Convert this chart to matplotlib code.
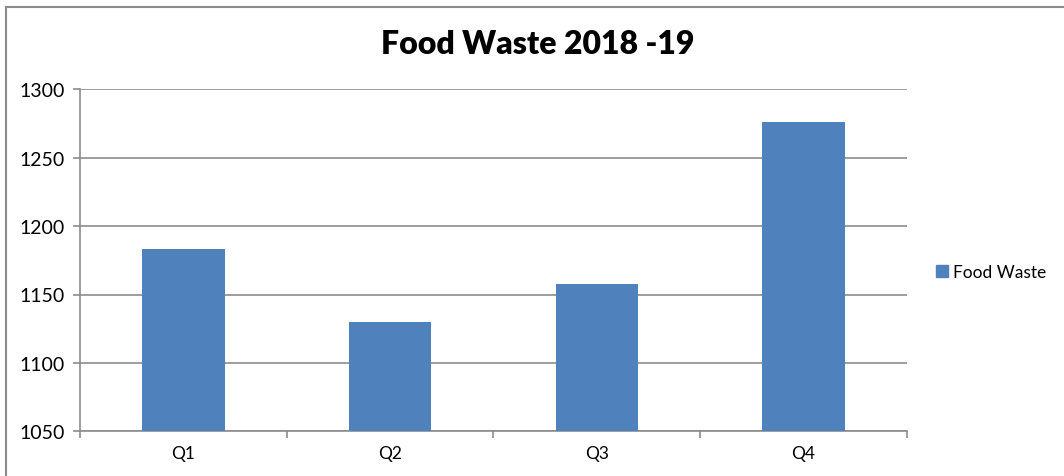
import matplotlib
matplotlib.use("Agg")
import matplotlib.pyplot as plt
from matplotlib.lines import Line2D
import numpy as np

categories = ["Q1", "Q2", "Q3", "Q4"]
food_waste = [1183, 1130, 1158, 1276]
y_ticks = [1050, 1100, 1150, 1200, 1250, 1300]
title = "Food Waste 2018 -19"
series_name = "Food Waste"

plt.rcParams['font.family'] = ['Lato', 'DejaVu Sans']

fig = plt.figure(figsize=(10.64, 4.77), dpi=100)
ax = fig.add_axes([80/1064, 1 - 432.3/477, 827/1064, (432.3 - 90.3)/477])

x = np.arange(len(categories))
ax.bar(x, food_waste, width=0.4, color="#4F81BD", label=series_name, zorder=3)

ax.set_xlim(-0.5, len(categories) - 0.5)
ax.set_ylim(y_ticks[0], y_ticks[-1])
ax.set_yticks(y_ticks)
ax.set_yticklabels([str(v) for v in y_ticks], fontsize=14)
ax.yaxis.grid(True, color="#8C8C8C", linewidth=1.2, zorder=0)

ax.set_xticks(x)
ax.set_xticklabels(categories, fontsize=12.5)
ax.tick_params(axis='x', length=0, pad=10)
ax.set_xticks(np.arange(-0.5, len(categories)), minor=True)
ax.tick_params(axis='x', which='minor', length=5, color="#8C8C8C", width=1.2, direction='out')
ax.tick_params(axis='y', length=5, color="#8C8C8C", width=1.2, pad=6)

for s in ['top', 'right']:
    ax.spines[s].set_visible(False)
for s in ['left', 'bottom']:
    ax.spines[s].set_color("#8C8C8C")
    ax.spines[s].set_linewidth(1.2)

fig.text(538/1064, 1 - 45/477, title, ha='center', va='center', fontsize=23, fontweight='heavy')

handle = Line2D([], [], marker='s', linestyle='none', markersize=8, color="#4F81BD")
fig.legend([handle], [series_name], loc='center left', bbox_to_anchor=(918/1064, 1 - 273/477),
           frameon=False, fontsize=12.5, handletextpad=0.1, handlelength=1.0)

# chart outer border
fig.add_artist(Line2D([6/1064, 6/1064], [0, 1 - 7.5/477], transform=fig.transFigure, color="#8C8C8C", linewidth=1.5))
fig.add_artist(Line2D([6/1064, 1], [1 - 7.5/477, 1 - 7.5/477], transform=fig.transFigure, color="#8C8C8C", linewidth=1.5))

fig.savefig("out.png", dpi=100)
